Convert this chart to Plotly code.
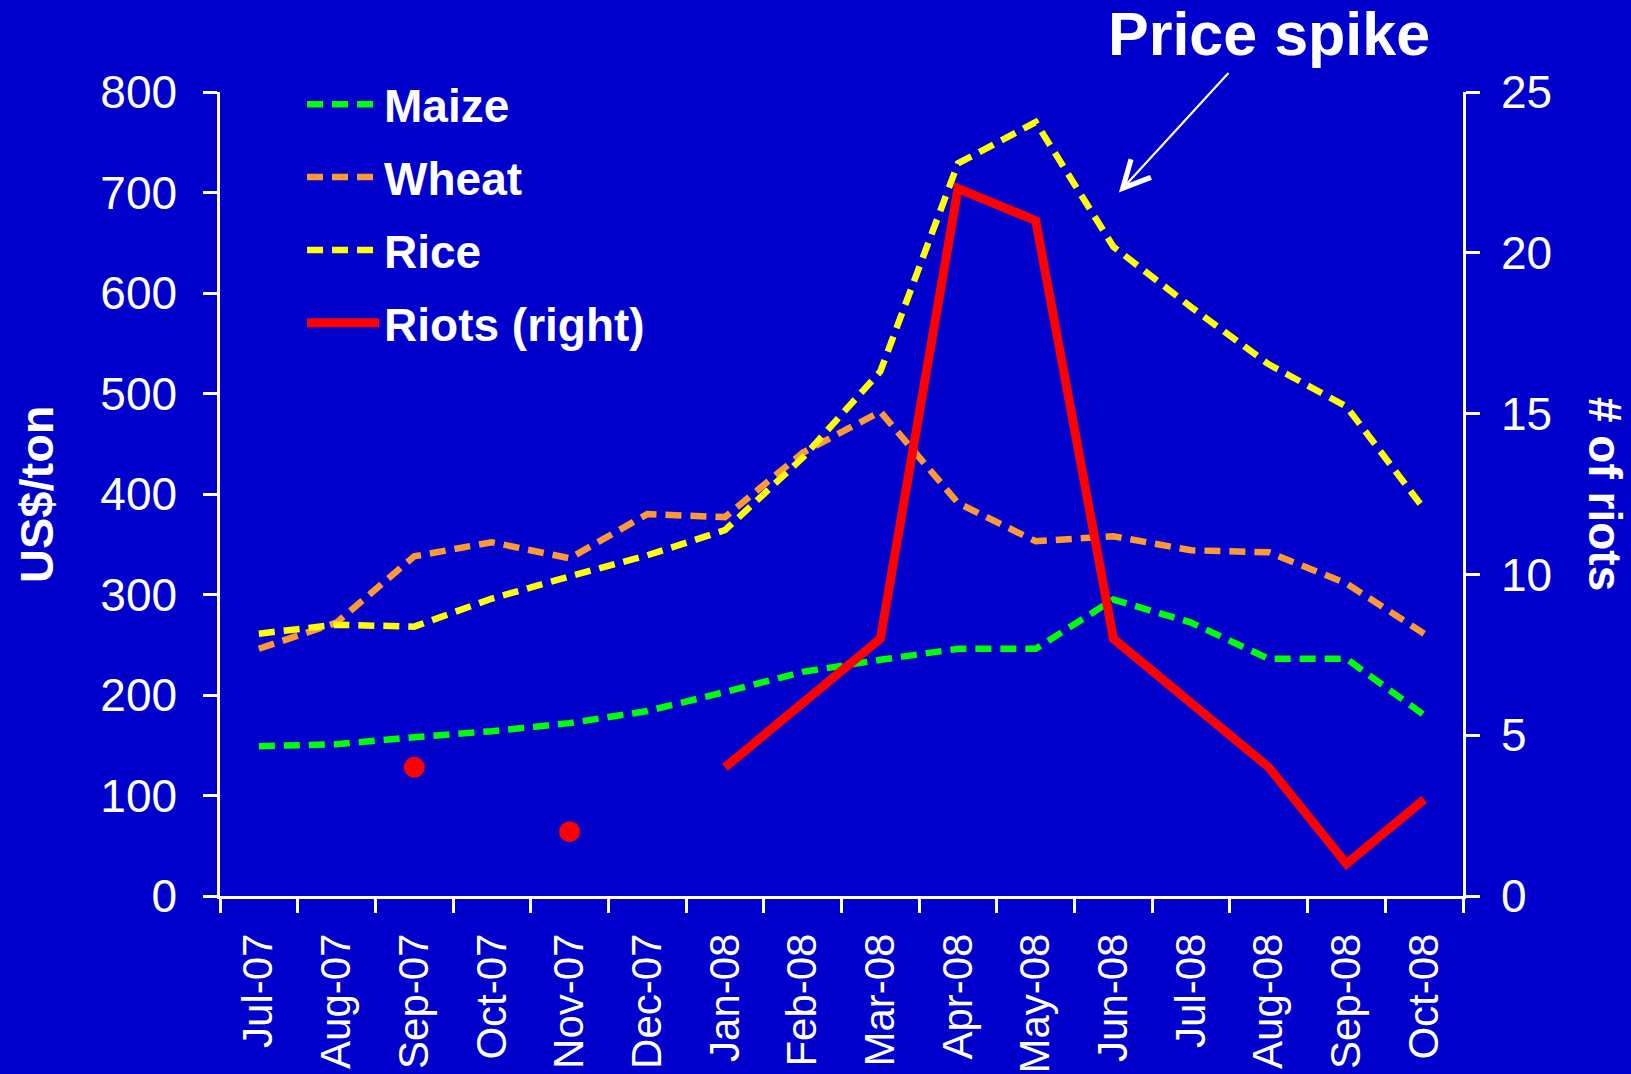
import plotly.graph_objects as go

months = ["Jul-07", "Aug-07", "Sep-07", "Oct-07", "Nov-07", "Dec-07", "Jan-08", "Feb-08",
          "Mar-08", "Apr-08", "May-08", "Jun-08", "Jul-08", "Aug-08", "Sep-08", "Oct-08"]
maize = [149, 151, 158, 164, 172, 184, 203, 223, 235, 246, 246, 295, 272, 236, 236, 180]
wheat = [246, 272, 338, 352, 336, 380, 377, 441, 482, 391, 353, 358, 344, 342, 311, 261]
rice = [261, 270, 268, 296, 318, 339, 364, 436, 522, 729, 770, 646, 586, 529, 487, 385]
riots = [None, None, 4, None, 2, None, 4, 6, 8, 22, 21, 8, 6, 4, 1, 3]

BG = "#0000CC"
WHITE = "#FFFFFF"
FONT = "Liberation Sans, Arial, sans-serif"

# isolated riot observations (no neighbours) shown as dots
iso_x, iso_y = [], []
for i, v in enumerate(riots):
    if v is None:
        continue
    prev_none = i == 0 or riots[i - 1] is None
    next_none = i == len(riots) - 1 or riots[i + 1] is None
    if prev_none and next_none:
        iso_x.append(months[i])
        iso_y.append(v)

fig = go.Figure()
fig.add_trace(go.Scatter(x=months, y=maize, name="Maize", mode="lines", legendgroup="a",
                         line=dict(color="#00FF00", width=6.5, dash="16px,9px")))
fig.add_trace(go.Scatter(x=months, y=wheat, name="Wheat", mode="lines", legendgroup="b",
                         line=dict(color="#FF9933", width=6.5, dash="16px,9px")))
fig.add_trace(go.Scatter(x=months, y=rice, name="Rice", mode="lines", legendgroup="c",
                         line=dict(color="#FFFF00", width=6.5, dash="16px,9px")))
fig.add_trace(go.Scatter(x=months, y=riots, name="Riots (right)", mode="lines", legendgroup="d",
                         yaxis="y2", connectgaps=False,
                         line=dict(color="#FF0000", width=9)))
fig.add_trace(go.Scatter(x=iso_x, y=iso_y, mode="markers", yaxis="y2", showlegend=False,
                         marker=dict(color="#FF0000", size=21)))

axis_common = dict(showline=True, linecolor=WHITE, linewidth=2.5, ticks="outside",
                   tickcolor=WHITE, ticklen=14, tickwidth=2.5, showgrid=False, zeroline=False,
                   tickfont=dict(family=FONT, size=46, color=WHITE))

fig.update_layout(
    width=1631, height=1074,
    paper_bgcolor=BG, plot_bgcolor=BG,
    margin=dict(l=220, r=168, t=92, b=178, autoexpand=False),
    font=dict(family=FONT, color=WHITE),
    xaxis=dict(type="category", categoryorder="array", categoryarray=months,
               range=[-0.5, 15.5], tickson="boundaries", tickangle=-90,
               showline=True, linecolor=WHITE, linewidth=2.5, ticks="outside",
               tickcolor=WHITE, ticklen=14, tickwidth=2.5, showgrid=False,
               tickfont=dict(family=FONT, size=42, color=WHITE), ticklabelstandoff=18),
    yaxis=dict(range=[0, 800], dtick=100, ticklabelstandoff=17, **axis_common),
    yaxis2=dict(range=[0, 25], dtick=5, overlaying="y", side="right", ticklabelstandoff=12,
                **axis_common),
    legend=dict(x=0.066, y=1.03, xanchor="left", yanchor="top", bgcolor="rgba(0,0,0,0)",
                font=dict(family=FONT, size=46, color=WHITE, weight="bold"),
                itemwidth=72, tracegroupgap=10),
    showlegend=True,
)

fig.add_annotation(text="US$/ton", xref="paper", yref="paper", x=0.0, y=0.5,
                   xanchor="center", yanchor="middle", xshift=-184, textangle=-90,
                   showarrow=False, font=dict(family=FONT, size=47, color=WHITE, weight="bold"))
fig.add_annotation(text="# of riots", xref="paper", yref="paper", x=1.0, y=0.5,
                   xanchor="center", yanchor="middle", xshift=142, textangle=90,
                   showarrow=False, font=dict(family=FONT, size=46, color=WHITE, weight="bold"))
fig.add_annotation(text="Price spike", xref="paper", yref="paper", x=0.8437, y=1.0716,
                   xanchor="center", yanchor="middle", showarrow=False,
                   font=dict(family=FONT, size=61, color=WHITE, weight="bold"))
fig.add_annotation(text="", x=11.07, y=700, xref="x", yref="y", ax=111, ay=-121,
                   showarrow=True, arrowhead=5, arrowsize=2.4, arrowwidth=2.2, arrowcolor=WHITE)

fig.write_html("out.html", config={"displayModeBar": False},
               post_script="document.body.style.margin='0';")
